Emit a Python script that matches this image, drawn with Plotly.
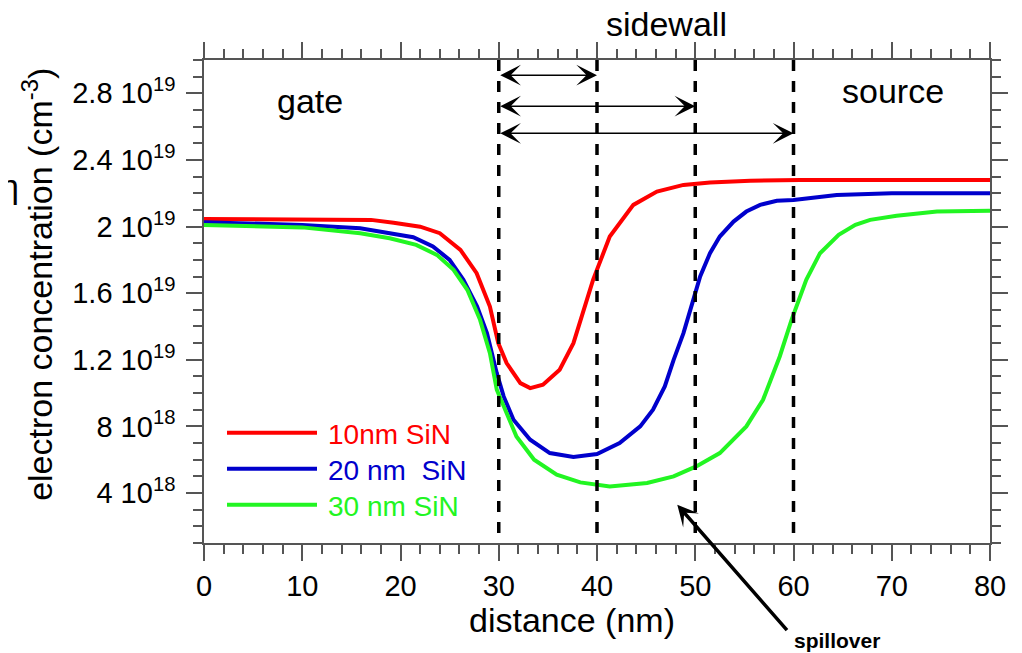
import numpy as np
import plotly.graph_objects as go

# ---------------- data (concentration in units of 1e18 cm^-3) ----------------
x_10nm = [0, 5, 10, 15, 17, 19.3, 22, 24, 26.1, 27.75, 29.1, 29.95, 30.8, 32.2, 33.2,
          34.5, 36.2, 37.6, 39.6, 41.3, 42.3, 43.7, 46.1, 48.8, 51.5, 55.6, 60.7, 70, 80]
n_10nm = [20.45, 20.45, 20.45, 20.43, 20.4, 20.23, 19.99, 19.6, 18.6, 17.2, 15.2, 13.0, 11.8,
          10.6, 10.3, 10.5, 11.4, 13.0, 16.8, 19.4, 20.2, 21.3, 22.1, 22.5, 22.65, 22.75,
          22.8, 22.8, 22.8]

x_20nm = [0, 5, 10, 15.9, 18.9, 21.3, 23.3, 25.0, 26.4, 27.8, 28.8, 29.8, 30.5, 31.5, 33.2,
          35.2, 37.6, 40.0, 42.3, 44.4, 45.7, 46.9, 47.8, 48.8, 49.8, 50.5, 51.5, 52.5, 53.9,
          55.2, 56.6, 58.3, 60.0, 61.7, 64.4, 70, 80]
n_20nm = [20.26, 20.2, 20.1, 19.9, 19.6, 19.36, 18.8, 18.0, 16.8, 15.2, 13.6, 11.2, 9.8, 8.4,
          7.2, 6.4, 6.16, 6.34, 7.0, 8.0, 9.0, 10.4, 12.0, 13.6, 15.6, 17.0, 18.4, 19.4, 20.3,
          20.9, 21.3, 21.55, 21.6, 21.7, 21.9, 22.0, 22.0]

x_30nm = [0, 5, 10, 15.9, 18.9, 21.6, 23.7, 25.4, 26.8, 28.1, 29.1, 29.8, 30.5, 31.8, 33.6,
          35.9, 38.3, 41.3, 45.1, 47.8, 50.1, 52.5, 55.2, 56.9, 58.6, 59.8, 61.3, 62.7, 64.6,
          66.3, 67.8, 70.5, 74.6, 80]
n_30nm = [20.1, 20.05, 19.95, 19.6, 19.3, 18.9, 18.3, 17.4, 16.2, 14.4, 12.4, 10.2, 9.2, 7.4,
          6.0, 5.1, 4.64, 4.4, 4.6, 5.0, 5.6, 6.4, 8.0, 9.6, 12.2, 14.4, 16.8, 18.4, 19.5,
          20.1, 20.4, 20.65, 20.9, 20.95]

series_names = ["10nm SiN", "20 nm\u00a0\u00a0SiN", "30 nm SiN"]
series_colors = ["#ff0000", "#0000cc", "#22f522"]

x_ticks = [0, 10, 20, 30, 40, 50, 60, 70, 80]
y_tick_vals = [4e18, 8e18, 1.2e19, 1.6e19, 2e19, 2.4e19, 2.8e19]
y_tick_text = ["4 10<sup>18</sup>", "8 10<sup>18</sup>", "1.2 10<sup>19</sup>",
               "1.6 10<sup>19</sup>", "2 10<sup>19</sup>", "2.4 10<sup>19</sup>",
               "2.8 10<sup>19</sup>"]

boundaries = [30, 40, 50, 60]           # dashed vertical lines (nm)
sidewall_start = 30
sidewall_ends = [40, 50, 60]
arrow_levels = [29.09e18, 27.23e18, 25.6e18]
spill_x, spill_y = 48.17, 3.3e18

FONT = "Liberation Sans, Arial, sans-serif"
AX = "#555555"

# plot area in window pixels: x 204..990, y 60..543.3 (page body adds an 8px offset)
PL, PR, PT, PB = 204, 990, 60, 543.3
PW, PH = PR - PL, PB - PT


def px(x):
    return (x - PL) / PW


def py(y):
    return (PB - y) / PH


fig = go.Figure()
for xs, ns, c in zip([x_10nm, x_20nm, x_30nm], [n_10nm, n_20nm, n_30nm], series_colors):
    fig.add_trace(go.Scatter(x=xs, y=np.array(ns) * 1e18, mode="lines",
                             line=dict(color=c, width=4), showlegend=False,
                             hoverinfo="skip"))

# dashed boundaries
for b in boundaries:
    fig.add_shape(type="line", xref="x", yref="paper", x0=b, x1=b, y0=1, y1=0,
                  line=dict(color="black", width=3.5, dash="11px,10px"), layer="above")

annotations = []
# double-headed arrows
for xe, yl in zip(sidewall_ends, arrow_levels):
    annotations.append(dict(x=xe, y=yl, ax=sidewall_start, ay=yl, xref="x", yref="y",
                            axref="x", ayref="y", text="", showarrow=True,
                            arrowhead=3, startarrowhead=3, arrowside="end+start",
                            arrowsize=2.3, startarrowsize=2.3, arrowwidth=1.5,
                            arrowcolor="black", standoff=0, startstandoff=0))
# spillover arrow
annotations.append(dict(x=spill_x, y=spill_y, xref="x", yref="y", ax=111, ay=127,
                        text="", showarrow=True, arrowhead=3, arrowsize=1.0,
                        arrowwidth=3.5, arrowcolor="black", standoff=0))
annotations.append(dict(x=px(837), y=py(641), xref="paper", yref="paper",
                        xanchor="center", yanchor="middle",
                        text="<b>spillover</b>", showarrow=False,
                        font=dict(size=21, family=FONT, color="black")))

# region labels
for txt, tx, ty in [("gate", 309.5, 101), ("source", 893, 91), ("sidewall", 666, 24)]:
    annotations.append(dict(x=px(tx), y=py(ty), xref="paper", yref="paper",
                            xanchor="center", yanchor="middle",
                            text=txt, showarrow=False,
                            font=dict(size=34, family=FONT, color="black")))

# axis titles
annotations.append(dict(x=px(572), y=py(620), xref="paper", yref="paper",
                        xanchor="center", yanchor="middle",
                        text="distance (nm)", showarrow=False,
                        font=dict(size=34, family=FONT, color="black")))
annotations.append(dict(x=px(38), y=py(285), xref="paper", yref="paper",
                        xanchor="center", yanchor="middle",
                        text="electron concentration (cm<sup>-3</sup>)",
                        textangle=-90, showarrow=False,
                        font=dict(size=34, family=FONT, color="black")))
# clipped fragment at left edge
annotations.append(dict(x=px(21), y=py(186), xref="paper", yref="paper",
                        text="η", xanchor="right", yanchor="middle", showarrow=False,
                        font=dict(size=34, family=FONT, color="black")))

# manual legend
leg_y = [433, 469, 505]
for name, c, ly in zip(series_names, series_colors, leg_y):
    fig.add_shape(type="line", xref="paper", yref="paper",
                  x0=px(227), x1=px(317), y0=py(ly), y1=py(ly),
                  line=dict(color=c, width=4))
    annotations.append(dict(x=px(326), y=py(ly + 2), xref="paper", yref="paper",
                            text=name, xanchor="left", yanchor="middle",
                            showarrow=False, font=dict(size=28, family=FONT, color=c)))

fig.update_layout(
    width=1014, height=645,
    margin=dict(l=PL - 8, r=1022 - PR, t=PT - 8, b=645 - (PB - 8), pad=0),
    plot_bgcolor="white", paper_bgcolor="white",
    showlegend=False,
    font=dict(family=FONT, color="black"),
    annotations=annotations,
)
fig.update_xaxes(range=[0, 80], tickmode="array", tickvals=x_ticks,
                 ticks="outside", ticklen=16, tickwidth=1.5, tickcolor=AX,
                 showline=True, linecolor=AX, linewidth=1.5, mirror="allticks",
                 showgrid=False, zeroline=False,
                 tickfont=dict(size=29, family=FONT, color="black"),
                 minor=dict(tickmode="linear", tick0=0, dtick=2, ticks="outside",
                            ticklen=9, tickwidth=1.5, tickcolor=AX))
fig.update_yaxes(range=[1e18, 3e19], tickmode="array", tickvals=y_tick_vals,
                 ticktext=y_tick_text, ticklabelstandoff=5,
                 ticks="outside", ticklen=16, tickwidth=1.5, tickcolor=AX,
                 showline=True, linecolor=AX, linewidth=1.5, mirror="allticks",
                 showgrid=False, zeroline=False,
                 tickfont=dict(size=29, family=FONT, color="black"),
                 minor=dict(tickmode="linear", tick0=0, dtick=1e18, ticks="outside",
                            ticklen=9, tickwidth=1.5, tickcolor=AX))

fig.write_html("out.html")
